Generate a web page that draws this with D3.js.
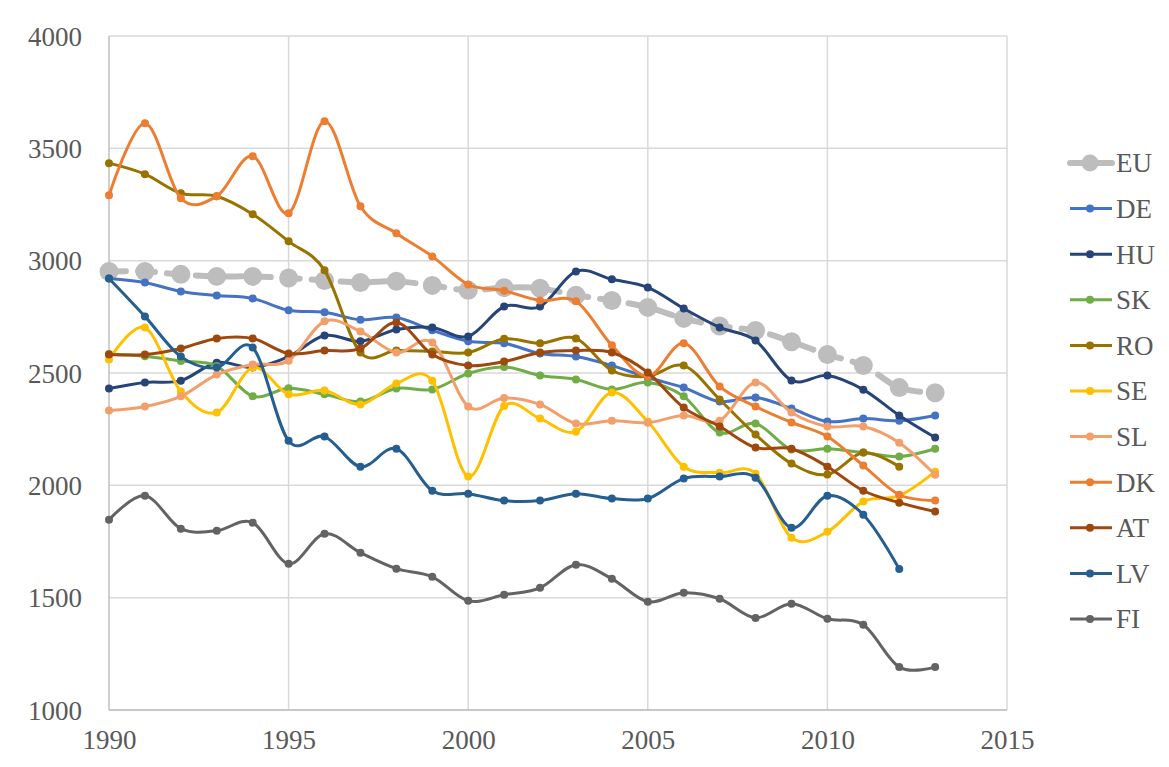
<!DOCTYPE html>
<html>
<head>
<meta charset="utf-8">
<script src="https://cdnjs.cloudflare.com/ajax/libs/d3/7.8.5/d3.min.js"></script>
<style>
  body { margin: 0; background: #fff; }
  svg { display: block; }
</style>
</head>
<body>
<div id="viz"></div>
<script>
const years = d3.range(1990, 2014);
const yTickValues = [1000, 1500, 2000, 2500, 3000, 3500, 4000];
const xTickValues = [1990, 1995, 2000, 2005, 2010, 2015];

const seriesNames = ['EU', 'DE', 'HU', 'SK', 'RO', 'SE', 'SL', 'DK', 'AT', 'LV', 'FI'];

const EU = [2952, 2952, 2939, 2930, 2930, 2923, 2912, 2903, 2908, 2890, 2868, 2880, 2877, 2846, 2823, 2792, 2743, 2709, 2689, 2639, 2582, 2533, 2435, 2412];
const DE = [2921, 2903, 2863, 2845, 2832, 2779, 2770, 2737, 2747, 2690, 2641, 2632, 2587, 2573, 2533, 2480, 2435, 2373, 2391, 2342, 2284, 2297, 2288, 2311];
const HU = [2431, 2458, 2466, 2546, 2525, 2573, 2667, 2641, 2694, 2703, 2663, 2796, 2796, 2952, 2917, 2881, 2787, 2703, 2645, 2467, 2489, 2426, 2311, 2213];
const SK = [2585, 2575, 2553, 2531, 2397, 2432, 2405, 2373, 2431, 2427, 2498, 2527, 2489, 2471, 2427, 2458, 2396, 2235, 2275, 2159, 2163, 2146, 2128, 2163];
const RO = [3434, 3385, 3300, 3287, 3207, 3086, 2957, 2591, 2600, 2596, 2591, 2652, 2632, 2654, 2511, 2485, 2533, 2382, 2226, 2097, 2048, 2146, 2083, null];
const SE = [2560, 2702, 2418, 2324, 2524, 2405, 2422, 2360, 2453, 2466, 2039, 2353, 2297, 2239, 2413, 2284, 2083, 2056, 2052, 1767, 1793, 1928, 1954, 2061];
const SL = [2333, 2351, 2396, 2493, 2538, 2555, 2730, 2685, 2591, 2636, 2351, 2389, 2360, 2275, 2288, 2279, 2311, 2288, 2458, 2324, 2262, 2262, 2190, 2047];
const DK = [3291, 3612, 3278, 3287, 3465, 3211, 3621, 3242, 3122, 3019, 2894, 2866, 2823, 2819, 2623, 2485, 2632, 2440, 2351, 2280, 2217, 2088, 1958, 1932];
const AT = [2582, 2582, 2609, 2654, 2654, 2587, 2600, 2609, 2725, 2582, 2533, 2551, 2591, 2600, 2591, 2502, 2346, 2262, 2168, 2163, 2083, 1976, 1923, 1883];
const LV = [2921, 2752, 2573, 2524, 2613, 2198, 2217, 2083, 2163, 1976, 1963, 1932, 1932, 1963, 1941, 1941, 2030, 2039, 2034, 1811, 1954, 1869, 1628, null];
const FI = [1847, 1954, 1807, 1798, 1834, 1651, 1785, 1700, 1629, 1593, 1486, 1513, 1544, 1647, 1584, 1482, 1522, 1495, 1410, 1473, 1406, 1379, 1191, 1191];

const colors = ['#BDBDBD', '#4472C4', '#264478', '#70AD47', '#997300', '#FFC000', '#F29F6C', '#ED7D31', '#9E480E', '#255E91', '#636363'];
const allValues = [EU, DE, HU, SK, RO, SE, SL, DK, AT, LV, FI];

const width = 1169, height = 767;
const margin = { top: 36, right: 162, bottom: 57, left: 109 };

const x = d3.scaleLinear().domain([1990, 2015]).range([margin.left, width - margin.right]);
const y = d3.scaleLinear().domain([1000, 4000]).range([height - margin.bottom, margin.top]);

const svg = d3.select('#viz').append('svg')
  .attr('width', width).attr('height', height);

// grid
svg.append('g').selectAll('line').data(yTickValues).enter().append('line')
  .attr('x1', margin.left).attr('x2', width - margin.right)
  .attr('y1', d => y(d)).attr('y2', d => y(d))
  .attr('stroke', '#D9D9D9').attr('stroke-width', 1.5);
svg.append('g').selectAll('line').data(xTickValues).enter().append('line')
  .attr('x1', d => x(d)).attr('x2', d => x(d))
  .attr('y1', margin.top).attr('y2', height - margin.bottom)
  .attr('stroke', d => d === 1990 ? '#BFBFBF' : '#D9D9D9').attr('stroke-width', 1.5);
svg.append('line')
  .attr('x1', margin.left).attr('x2', width - margin.right)
  .attr('y1', y(1000)).attr('y2', y(1000))
  .attr('stroke', '#BFBFBF').attr('stroke-width', 1.5);

// axes labels
const yAxis = svg.append('g')
  .attr('transform', `translate(${margin.left - 27}, 0)`)
  .call(d3.axisLeft(y).tickValues(yTickValues).tickSize(0).tickPadding(0).tickFormat(d3.format('d')));
const xAxis = svg.append('g')
  .attr('transform', `translate(0, ${height - margin.bottom + 18})`)
  .call(d3.axisBottom(x).tickValues(xTickValues).tickSize(0).tickPadding(0).tickFormat(d3.format('d')));
[yAxis, xAxis].forEach(a => {
  a.select('.domain').remove();
  a.selectAll('text')
    .attr('font-family', '"Liberation Serif", "DejaVu Serif", serif')
    .attr('font-size', 27)
    .attr('fill', '#595959');
});
yAxis.selectAll('text').attr('dy', '0.34em');
xAxis.selectAll('text').attr('dy', '0.78em');

// series
const line = d3.line()
  .defined(d => d[1] != null)
  .x(d => x(d[0])).y(d => y(d[1]))
  .curve(d3.curveCardinal.tension(0));

seriesNames.forEach((name, i) => {
  const pts = years.map((yr, j) => [yr, allValues[i][j]]).filter(p => p[1] != null);
  const g = svg.append('g').attr('class', 'series-' + name);
  const isEU = name === 'EU';
  g.append('path')
    .datum(pts)
    .attr('d', line)
    .attr('fill', 'none')
    .attr('stroke', colors[i])
    .attr('stroke-width', isEU ? 6 : 3)
    .attr('stroke-dasharray', isEU ? '17,12' : null)
    .attr('stroke-linecap', isEU ? 'round' : 'butt');
  g.selectAll('circle').data(pts).enter().append('circle')
    .attr('cx', d => x(d[0])).attr('cy', d => y(d[1]))
    .attr('r', isEU ? 9.5 : 4)
    .attr('fill', colors[i]);
});

// legend
const legend = svg.append('g');
seriesNames.forEach((name, i) => {
  const ly = 163 + i * 45.6;
  const isEU = name === 'EU';
  legend.append('line')
    .attr('x1', 1070).attr('x2', 1112).attr('y1', ly).attr('y2', ly)
    .attr('stroke', colors[i]).attr('stroke-width', isEU ? 6 : 3)
    .attr('stroke-dasharray', isEU ? '17,12' : null)
    .attr('stroke-linecap', isEU ? 'round' : 'butt');
  legend.append('circle')
    .attr('cx', 1090).attr('cy', ly).attr('r', isEU ? 8.5 : 4)
    .attr('fill', colors[i]);
  legend.append('text')
    .attr('x', 1116).attr('y', ly).attr('dy', '0.35em')
    .attr('font-family', '"Liberation Serif", "DejaVu Serif", serif')
    .attr('font-size', 27).attr('fill', '#595959')
    .text(name);
});
</script>
</body>
</html>
